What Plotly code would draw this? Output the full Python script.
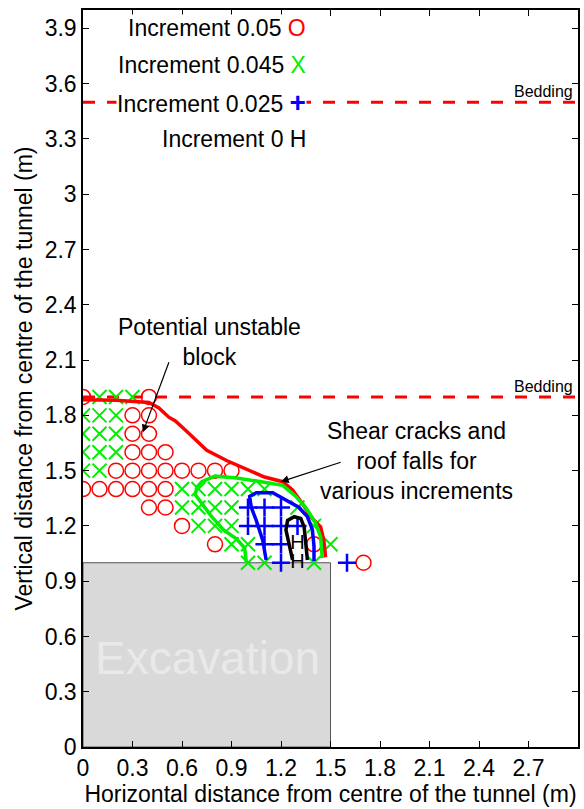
import plotly.graph_objects as go

# ---------------- data ----------------
x_ticks = [0, 0.3, 0.6, 0.9, 1.2, 1.5, 1.8, 2.1, 2.4, 2.7]
x_tick_labels = ["0", "0.3", "0.6", "0.9", "1.2", "1.5", "1.8", "2.1", "2.4", "2.7"]
y_ticks = [0, 0.3, 0.6, 0.9, 1.2, 1.5, 1.8, 2.1, 2.4, 2.7, 3.0, 3.3, 3.6, 3.9]
y_tick_labels = ["0", "0.3", "0.6", "0.9", "1.2", "1.5", "1.8", "2.1", "2.4", "2.7", "3", "3.3", "3.6", "3.9"]

# Increment 0.05 (O)
inc005_x = [0, 0.4,
            0.3, 0.4,
            0.3, 0.4,
            0.3, 0.4, 0.5,
            0.2, 0.3, 0.4, 0.5, 0.6, 0.7, 0.8, 0.9,
            0, 0.1, 0.2, 0.3, 0.4, 0.5,
            0.4, 0.5,
            0.6,
            0.8, 1.4,
            1.7]
inc005_y = [1.9, 1.9,
            1.8, 1.8,
            1.7, 1.7,
            1.6, 1.6, 1.6,
            1.5, 1.5, 1.5, 1.5, 1.5, 1.5, 1.5, 1.5,
            1.4, 1.4, 1.4, 1.4, 1.4, 1.4,
            1.3, 1.3,
            1.2,
            1.1, 1.1,
            1.0]

# Increment 0.045 (X)
inc0045_x = [0.1, 0.2, 0.3,
             0, 0.1, 0.2,
             0, 0.1, 0.2,
             0, 0.1, 0.2,
             0, 0.1,
             0.6, 0.7, 0.8, 0.9, 1.0, 1.1,
             0.6, 0.7, 0.8, 0.9, 1.3,
             0.7, 0.8, 0.9, 1.4,
             0.9, 1.0, 1.5,
             1.0, 1.1, 1.4]
inc0045_y = [1.9, 1.9, 1.9,
             1.8, 1.8, 1.8,
             1.7, 1.7, 1.7,
             1.6, 1.6, 1.6,
             1.5, 1.5,
             1.4, 1.4, 1.4, 1.4, 1.4, 1.4,
             1.3, 1.3, 1.3, 1.3, 1.3,
             1.2, 1.2, 1.2, 1.2,
             1.1, 1.1, 1.1,
             1.0, 1.0, 1.0]

# Increment 0.025 (+)
inc0025_x = [1.0, 1.1, 1.2,
             1.0, 1.1, 1.2, 1.3,
             1.1, 1.2,
             1.2, 1.6]
inc0025_y = [1.3, 1.3, 1.3,
             1.2, 1.2, 1.2, 1.2,
             1.1, 1.1,
             1.0, 1.0]

# Increment 0 (H)
inc0_x = [1.3, 1.3]
inc0_y = [1.1, 1.0]

# boundary contours
red_x = [0, 0.2, 0.4, 0.46, 0.52, 0.56, 0.62, 0.68, 0.75, 0.87, 1.01, 1.1, 1.21, 1.27, 1.33, 1.39, 1.44, 1.46, 1.47]
red_y = [1.885, 1.882, 1.87, 1.84, 1.79, 1.77, 1.72, 1.67, 1.61, 1.555, 1.50, 1.465, 1.44, 1.395, 1.32, 1.24, 1.195, 1.12, 1.03]

green_x = [0.99, 0.98, 0.93, 0.85, 0.78, 0.72, 0.68, 0.69, 0.72, 0.80, 0.93, 1.08, 1.21, 1.29, 1.35, 1.41, 1.44, 1.45]
green_y = [1.0, 1.08, 1.13, 1.18, 1.25, 1.32, 1.37, 1.41, 1.44, 1.47, 1.46, 1.44, 1.42, 1.36, 1.30, 1.215, 1.14, 1.025]

blue_x = [1.11, 1.09, 1.05, 1.02, 1.01, 1.05, 1.15, 1.21, 1.31, 1.36, 1.39, 1.40, 1.40]
blue_y = [1.015, 1.12, 1.23, 1.30, 1.36, 1.38, 1.38, 1.35, 1.30, 1.25, 1.18, 1.09, 1.01]

black_x = [1.27, 1.25, 1.23, 1.24, 1.28, 1.32, 1.34, 1.35, 1.36]
black_y = [1.015, 1.107, 1.178, 1.23, 1.25, 1.24, 1.195, 1.107, 1.015]

bedding_levels = [3.5, 1.9]
bedding_x = [0, 3]
excavation_w = 1.5
excavation_h = 1.0

legend_labels = ["Increment 0.05", "Increment 0.045", "Increment 0.025", "Increment 0"]
legend_symbols = ["O", "X", "<b>+</b>", "H"]
legend_colors = ["#ff0000", "#00ee00", "#0000ff", "#000000"]
legend_y = [3.9, 3.7, 3.5, 3.3]

FONT = "Liberation Sans, Arial, sans-serif"
FS = 23

fig = go.Figure()

# excavation
fig.add_shape(type="rect", x0=0, y0=0, x1=excavation_w, y1=excavation_h,
              fillcolor="#d9d9d9", line=dict(color="#555555", width=1), layer="below")

# bedding lines
for lv in bedding_levels:
    fig.add_trace(go.Scatter(x=bedding_x, y=[lv, lv], mode="lines",
                             line=dict(color="#ff0000", width=3, dash="12px,12px"),
                             hoverinfo="skip", showlegend=False))

fig.add_trace(go.Scatter(x=inc005_x, y=inc005_y, mode="markers", showlegend=False,
                         marker=dict(symbol="circle-open", color="#ff0000", size=15, line=dict(width=1.5))))
fig.add_trace(go.Scatter(x=inc0045_x, y=inc0045_y, mode="markers", showlegend=False,
                         marker=dict(symbol="x-thin-open", color="#00ee00", size=14, line=dict(width=2, color="#00ee00"))))
fig.add_trace(go.Scatter(x=inc0025_x, y=inc0025_y, mode="markers", showlegend=False,
                         marker=dict(symbol="cross-thin-open", color="#0000ff", size=13, line=dict(width=2.5, color="#0000ff"))))

# contours
for cx, cy, col in [(red_x, red_y, "#ff0000"), (green_x, green_y, "#00ee00"),
                    (blue_x, blue_y, "#0000ff"), (black_x, black_y, "black")]:
    fig.add_trace(go.Scatter(x=cx, y=cy, mode="lines", showlegend=False,
                             line=dict(color=col, width=3.5), hoverinfo="skip"))

fig.add_trace(go.Scatter(x=inc0_x, y=inc0_y, mode="text", text=["H"] * len(inc0_x), showlegend=False,
                         textfont=dict(family=FONT, size=20, color="black")))

annotations = []
# in-plot legend (white background box, like the original)
for lab, sym, col, ly in zip(legend_labels, legend_symbols, legend_colors, legend_y):
    big = "font-size:28px;" if sym.startswith("<b>") else ""
    annotations.append(dict(x=1.36, y=ly, xanchor="right", yanchor="middle", showarrow=False,
                            text=f"{lab} <span style='color:{col};{big}'>{sym}</span>",
                            bgcolor="white", borderpad=0,
                            font=dict(family=FONT, size=FS, color="black")))

for lv in bedding_levels:
    annotations.append(dict(x=2.98, y=lv, text="Bedding", showarrow=False, xanchor="right", yanchor="bottom",
                            font=dict(family=FONT, size=16, color="black")))

annotations.append(dict(x=0.757, y=0.483, text="Excavation", showarrow=False,
                        font=dict(family=FONT, size=46, color="#e9e9e9")))

annotations.append(dict(x=0.765, y=2.2, text="Potential unstable<br>block", showarrow=False,
                        font=dict(family=FONT, size=FS, color="black")))
annotations.append(dict(x=0.363, y=1.708, ax=0.524, ay=2.096, axref="x", ayref="y", xref="x", yref="y",
                        text="", showarrow=True, arrowhead=2, arrowsize=1.3, arrowwidth=1.2, arrowcolor="black"))

annotations.append(dict(x=2.02, y=1.55, text="Shear cracks and<br>roof falls for<br>various increments",
                        showarrow=False, font=dict(family=FONT, size=FS, color="black")))
annotations.append(dict(x=1.199, y=1.44, ax=1.571, ay=1.548, axref="x", ayref="y", xref="x", yref="y",
                        text="", showarrow=True, arrowhead=2, arrowsize=1.3, arrowwidth=1.2, arrowcolor="black"))

fig.update_layout(
    width=584, height=809,
    margin=dict(l=83, r=4, t=10, b=62),
    paper_bgcolor="white", plot_bgcolor="white",
    font=dict(family=FONT, size=FS, color="black"),
    annotations=annotations,
    showlegend=False,
)
fig.update_xaxes(range=[0, 3], tickvals=x_ticks, ticktext=x_tick_labels,
                 showgrid=False, zeroline=False, showline=True, mirror="ticks",
                 linecolor="black", linewidth=1.5, ticks="inside", ticklen=6, tickcolor="black",
                 title=dict(text="Horizontal distance from centre of the tunnel (m)", standoff=2,
                            font=dict(family=FONT, size=FS)))
fig.update_yaxes(range=[0, 4], tickvals=y_ticks, ticktext=y_tick_labels,
                 showgrid=False, zeroline=False, showline=True, mirror="ticks",
                 linecolor="black", linewidth=1.5, ticks="inside", ticklen=6, tickcolor="black",
                 title=dict(text="Vertical distance from centre of the tunnel (m)", standoff=6,
                            font=dict(family=FONT, size=FS)))

fig.write_html("out.html", config={"displayModeBar": False},
               post_script="document.body.style.margin='0';document.body.style.overflow='hidden';")
